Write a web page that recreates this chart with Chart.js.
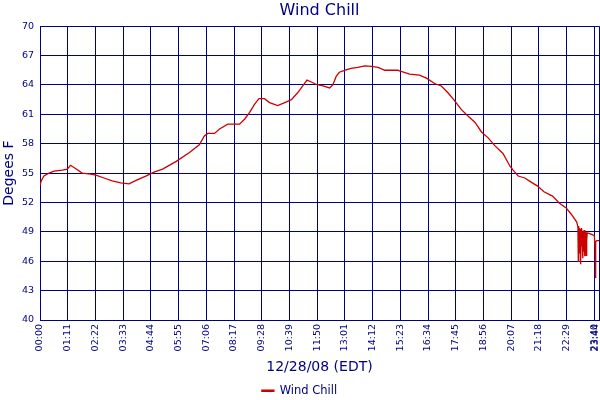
<!DOCTYPE html>
<html>
<head>
<meta charset="utf-8">
<script src="https://cdn.jsdelivr.net/npm/chart.js@4.4.1/dist/chart.umd.min.js"></script>
<style>
  html, body { margin: 0; padding: 0; background: #ffffff; }
  #wrap { width: 600px; height: 400px; }
</style>
</head>
<body>
<div id="wrap"><canvas id="c" width="600" height="400"></canvas></div>
<script>
// minutes after 00:00 on 12/28/08
const minutes = [
  0, 3, 10, 23, 36, 57, 70, 78, 90, 108, 130, 143, 164, 185, 207, 228, 249, 271, 292,
  314, 349, 383, 408, 421, 430, 447, 460, 481, 511, 524, 537, 549, 561, 575, 588, 609,
  627, 644, 660, 673, 684, 695, 708, 725, 742, 750, 759, 767, 780, 797, 814, 832, 849,
  866, 883, 917, 921, 947, 972, 990, 1011, 1028, 1045, 1062, 1079, 1097, 1114, 1131,
  1148, 1165, 1186, 1204, 1212, 1225, 1242, 1257, 1274, 1291, 1313, 1330, 1348, 1361,
  1375, 1378, 1379, 1380, 1381, 1382, 1383, 1384, 1385, 1386, 1387, 1388, 1389, 1390,
  1391, 1392, 1393, 1394, 1395, 1396, 1397, 1398, 1399, 1400, 1401, 1402, 1410, 1416,
  1420, 1422, 1423, 1424, 1426, 1432
];
const windChill = [
  53.7, 54.2, 54.7, 55.0, 55.2, 55.3, 55.4, 55.8, 55.5, 55.0, 54.9, 54.8, 54.5, 54.2, 54.0, 53.9, 54.3, 54.7, 55.1,
  55.4, 56.2, 57.1, 57.9, 58.8, 59.05, 59.05, 59.5, 60.0, 60.0, 60.5, 61.2, 62.0, 62.6, 62.6, 62.2, 61.9,
  62.2, 62.5, 63.2, 63.9, 64.5, 64.3, 64.05, 63.9, 63.7, 64.0, 64.9, 65.3, 65.5, 65.7, 65.8, 65.95, 65.9,
  65.8, 65.5, 65.5, 65.45, 65.1, 65.0, 64.7, 64.15, 63.9, 63.2, 62.4, 61.5, 60.8, 60.2, 59.2,
  58.6, 57.8, 57.0, 55.7, 55.3, 54.7, 54.5, 54.1, 53.7, 53.1, 52.65, 51.95, 51.45, 50.8,
  50.0, 49.5, 46.0, 49.6, 48.5, 49.4, 46.8, 49.3, 45.7, 49.2, 47.5, 49.4, 48.1, 49.0,
  46.3, 49.1, 47.0, 49.2, 46.5, 49.0, 48.0, 49.0, 46.6, 48.9, 48.2, 48.9, 48.8, 48.7,
  48.6, 47.5, 44.3, 48.0, 48.1, 48.1
];
const tickMinutes = [0, 71, 142, 213, 284, 355, 426, 497, 568, 639, 710, 781, 852, 923, 994, 1065, 1136, 1207, 1278, 1349, 1420, 1424];
const tickLabels = ['00:00','01:11','02:22','03:33','04:44','05:55','07:06','08:17','09:28','10:39','11:50','13:01','14:12','15:23','16:34','17:45','18:56','20:07','21:18','22:29','23:40','23:44'];
const xMax = 1432;

const NAVY = '#000080';
const RED = '#cc0000';
const FONT = "'DejaVu Sans', Verdana, sans-serif";

const points = minutes.map((m, i) => ({ x: m, y: windChill[i] }));

new Chart(document.getElementById('c'), {
  type: 'line',
  data: {
    datasets: [{
      label: 'Wind Chill',
      data: points,
      borderColor: RED,
      backgroundColor: RED,
      borderWidth: 1.3,
      pointRadius: 0,
      tension: 0
    }]
  },
  options: {
    responsive: false,
    animation: false,
    layout: { padding: { top: 0, right: 1, bottom: -6.5, left: 0 } },
    plugins: {
      title: {
        display: true,
        text: 'Wind Chill',
        color: NAVY,
        fullSize: false,
        font: { family: FONT, size: 16, weight: 'normal' },
        padding: { top: 1, bottom: 6 }
      },
      legend: {
        display: true,
        position: 'bottom',
        labels: {
          color: NAVY,
          font: { family: FONT, size: 11.5 },
          boxWidth: 12,
          boxHeight: 1,
          padding: 4
        }
      },
      tooltip: { enabled: false }
    },
    scales: {
      x: {
        type: 'linear',
        min: 0,
        max: xMax,
        afterBuildTicks: (scale) => {
          scale.ticks = tickMinutes.map(v => ({ value: v })).concat([{ value: xMax }]);
        },
        afterFit: (scale) => {
          scale.height = 61;
          scale.paddingLeft = 0;
          scale.paddingRight = 0;
        },
        ticks: {
          autoSkip: false,
          minRotation: 90,
          maxRotation: 90,
          padding: 4,
          color: NAVY,
          font: { family: FONT, size: 9.5 },
          callback: (value, index) => (index < tickLabels.length ? tickLabels[index] : '')
        },
        grid: {
          color: (ctx) => (ctx.tick && ctx.tick.value === 1424 ? 'rgba(0,0,0,0)' : NAVY),
          lineWidth: 1,
          drawTicks: false
        },
        border: { color: NAVY, width: 1 },
        title: {
          display: true,
          text: '12/28/08 (EDT)',
          color: NAVY,
          font: { family: FONT, size: 14 },
          padding: { top: 0, bottom: 5 }
        }
      },
      y: {
        min: 40,
        max: 70,
        afterFit: (scale) => { scale.width = 40; },
        ticks: {
          stepSize: 3,
          padding: 6,
          color: NAVY,
          font: { family: FONT, size: 9.5 }
        },
        grid: { color: NAVY, lineWidth: 1, drawTicks: false },
        border: { color: NAVY, width: 1 },
        title: {
          display: true,
          text: 'Degees F',
          color: NAVY,
          font: { family: FONT, size: 14 },
          padding: { top: 1, bottom: 0 }
        }
      }
    }
  }
});
</script>
</body>
</html>
